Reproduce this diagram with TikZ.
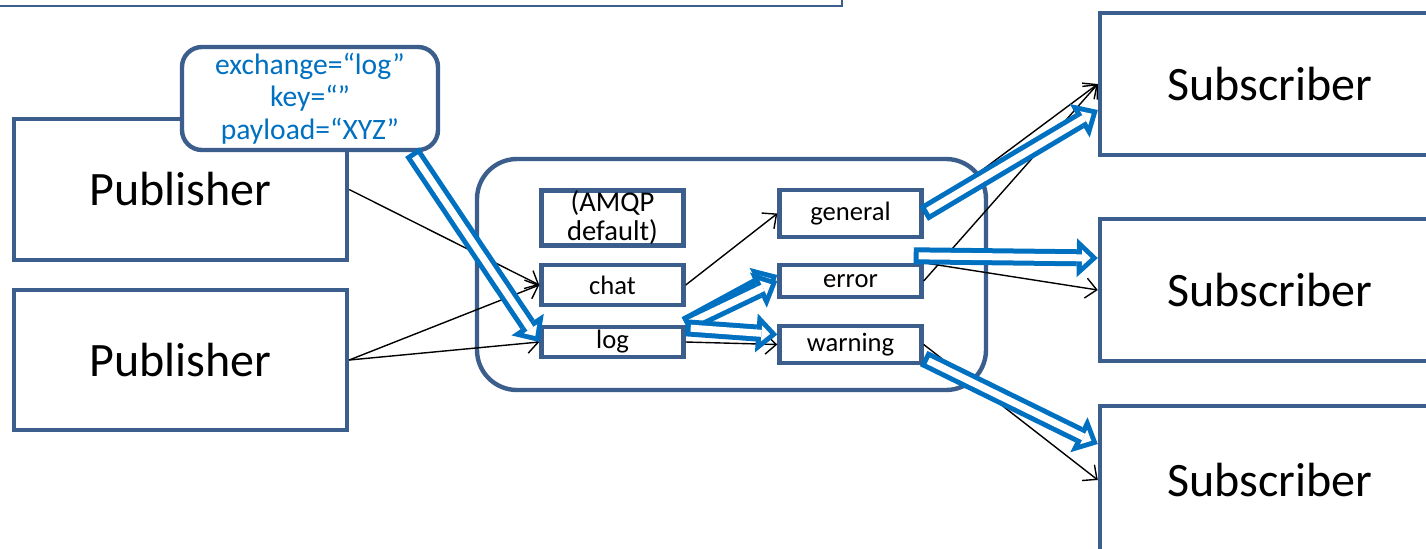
\documentclass[tikz,border=0pt]{standalone}
\usepackage{fontspec}
\setmainfont{Carlito}
\usetikzlibrary{arrows.meta,calc}
\definecolor{boxblue}{HTML}{3B5E8C}
\definecolor{msgblue}{HTML}{0070C0}
\begin{document}
\begin{tikzpicture}[x=0.5pt,y=-0.5pt,
    frame/.style={draw=boxblue,line width=2.2pt,fill=white,inner sep=0pt,align=center},
    bigbox/.style={frame,minimum width=166.5pt,font=\fontsize{24}{28}\selectfont},
    exbox/.style={frame,minimum width=71pt,font=\fontsize{13.3}{15}\selectfont},
    flow/.style={black,line width=0.7pt,-{Straight Barb[length=5.5pt,width=10pt]}},
    bigarrow/.style={draw=msgblue,line width=8.5pt,-{Triangle[length=10.5pt,width=19.5pt,line width=0pt]},
      postaction={draw=white,line width=3.5pt,shorten <=2.5pt,shorten >=3.6pt,
        -{Triangle[length=4.3pt,width=8pt,line width=0pt]}}}]
  \useasboundingbox (0,0) rectangle (1426,548);
  \draw[boxblue,line width=1pt] (-20,-100) rectangle (842,6);
    % publishers and the message
    \node[bigbox,minimum height=70.5pt] at (180.5,189.5) (pub1) {Publisher};
    \node[bigbox,minimum height=70pt] at (180.5,360) (pub2) {Publisher};
    \node[frame,rounded corners=10pt,minimum width=128pt,minimum height=51.5pt,
      text=msgblue,font=\fontsize{14.8}{16.25}\selectfont] at (310,98.5) (msg)
      {exchange=“log”\\key=“”\\payload=“XYZ”};
    % broker with its exchanges
    \node[frame,rounded corners=20pt,minimum width=254.5pt,minimum height=115.5pt] at (731.5,274.5) (broker) {};
    \node[exbox,minimum height=27.5pt,font=\fontsize{14.3}{14.5}\selectfont] at (612.5,218) (amqp) {(AMQP\\default)};
    \node[exbox,minimum height=20pt] at (612.5,285) (chat) {chat};
    \node[exbox,minimum height=15pt] at (612.5,342) (log) {log};
    \node[exbox,minimum height=23.5pt] at (850.5,213.5) (general) {general};
    \node[exbox,minimum height=16pt] at (850.5,281) (error) {error};
    \node[exbox,minimum height=18.5pt] at (850.5,344.5) (warning) {warning};
    % subscribers
    \node[bigbox,minimum width=170pt,minimum height=71pt] at (1270,84) (sub1) {Subscriber};
    \node[bigbox,minimum width=170pt,minimum height=71pt] at (1270,290) (sub2) {Subscriber};
    \node[bigbox,minimum width=170pt,minimum height=74pt] at (1270,480) (sub3) {Subscriber};
    \draw[flow] (pub1.east)--(chat.west);
    \draw[flow] (pub2.east)--(chat.west);
    \draw[flow] (pub2.east)--(log.west);
    \draw[flow] (chat.east)--(general.west);
    \draw[flow] (log.east)--(warning.west);
    \draw[flow] (general.east)--(sub1.west);
    \draw[flow] (error.east)--(sub1.west);
    \draw[flow] (error.north east)--(sub2.west);
    \draw[flow] (warning.east)--(sub3.west);
    % the message takes the thick path
    \draw[bigarrow] ([xshift=-14pt]msg.south east)--(log.west);
    \draw[bigarrow] (log.north east)--([yshift=3pt]error.west);
    \draw[bigarrow] (log.north east)--(error.west);
    \draw[bigarrow] ([yshift=-1.5pt]log.north east)--([yshift=5pt]warning.west);
    \draw[bigarrow] (general.east)--([yshift=-13pt]sub1.west);
    \draw[bigarrow] ([xshift=-5pt,yshift=3.5pt]error.north east)--([yshift=16pt]sub2.west);
    \draw[bigarrow] ([yshift=-7pt]warning.east)--([yshift=18pt]sub3.west);
\end{tikzpicture}
\end{document}
